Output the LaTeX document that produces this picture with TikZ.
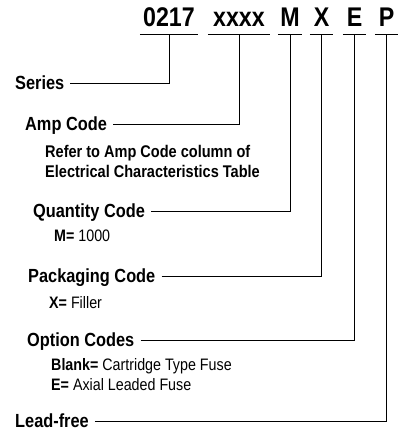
\documentclass[tikz,border=0pt]{standalone}
\usepackage{fontspec}
\setmainfont{Liberation Sans}[FakeStretch=0.86]

\begin{document}
\begin{tikzpicture}[x=1pt, y=-1pt]
    \tikzset{
        code/.style={font=\bfseries\fontsize{27}{27}\selectfont, inner xsep=0pt, inner ysep=0pt, text height=20pt, text depth=7pt, anchor=base},
        field/.style={font=\bfseries\fontsize{19}{19}\selectfont, inner sep=0pt, text height=14pt, text depth=3pt, anchor=base west},
        note/.style={font=\fontsize{16.6}{20}\selectfont, inner sep=0pt, align=left, anchor=base west},
        lead/.style={line width=0.9pt},
    }
    \useasboundingbox (0,0) rectangle (398,439);

    % part number
    \node[code, minimum width=58pt](c0217) at (169,27) {0217};
    \node[code, minimum width=62pt](cxxxx) at (239,27) {xxxx};
    \node[code, minimum width=24pt](cM) at (290,27) {M};
    \node[code, minimum width=23pt](cX) at (321.5,27) {X};
    \node[code, minimum width=23pt](cE) at (354.5,27) {E};
    \node[code, minimum width=23pt](cP) at (386.5,27) {P};
    \foreach \c in {c0217, cxxxx, cM, cX, cE, cP}
        \draw[lead] (\c.south west) -- (\c.south east);

    % fields (multi-line notes sit on their last line)
    \node[field](series) at (15,89) {Series};
    \node[field](amp) at (25,130) {Amp Code};
    \node[note, font=\bfseries\fontsize{16.9}{20}\selectfont](ampnote) at (45,177) {Refer to Amp Code column of\\Electrical Characteristics Table};
    \node[field](qty) at (33,217) {Quantity Code};
    \node[note](qtynote) at (54,241) {\textbf{M=} 1000};
    \node[field](pack) at (28,282) {Packaging Code};
    \node[note](packnote) at (49,308) {\textbf{X=} Filler};
    \node[field](opt) at (27,346) {Option Codes};
    \node[note](optnote) at (51,390) {\textbf{Blank=} Cartridge Type Fuse\\\textbf{E=} Axial Leaded Fuse};
    \node[field](lead) at (15,427) {Lead-free};

    \foreach \f/\c in {series/c0217, amp/cxxxx, qty/cM, pack/cX, opt/cE, lead/cP}
        \draw[lead, shorten <=6pt] (\f.east) -| (\c.south);
\end{tikzpicture}
\end{document}
